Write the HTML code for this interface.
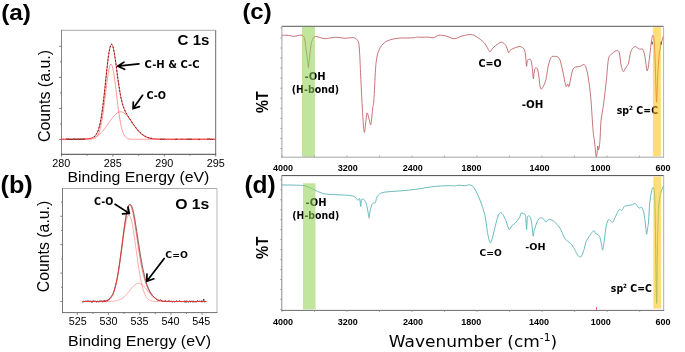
<!DOCTYPE html>
<html lang="en"><head><meta charset="utf-8"><title>XPS and FTIR spectra</title>
<style>html,body{margin:0;padding:0;background:#fff}svg{display:block}</style></head>
<body>
<svg width="685" height="352" viewBox="0 0 685 352">
<rect width="685" height="352" fill="#fff"/>
<text x="1.2" y="19.5" font-family='"Liberation Sans", sans-serif' font-size="22.2" font-weight="bold" text-anchor="start" fill="#000" textLength="29.8" lengthAdjust="spacingAndGlyphs" >(a)</text>
<text x="0.5" y="193" font-family='"Liberation Sans", sans-serif' font-size="23.5" font-weight="bold" text-anchor="start" fill="#000" textLength="32.2" lengthAdjust="spacingAndGlyphs" >(b)</text>
<text x="242.4" y="19" font-family='"Liberation Sans", sans-serif' font-size="22.4" font-weight="bold" text-anchor="start" fill="#000" textLength="29.2" lengthAdjust="spacingAndGlyphs" >(c)</text>
<text x="244.4" y="193.4" font-family='"Liberation Sans", sans-serif' font-size="24" font-weight="bold" text-anchor="start" fill="#000" textLength="31.3" lengthAdjust="spacingAndGlyphs" >(d)</text>
<path d="M61.5 30.3H215.7" stroke="#ababab" stroke-width="1.0" fill="none"/>
<path d="M215.7 30.3V154.3" stroke="#6a6a6a" stroke-width="1.0" fill="none"/>
<path d="M61.5 29.8V154.8" stroke="#858585" stroke-width="1.0" fill="none"/>
<path d="M61 154.3H216.2" stroke="#454545" stroke-width="1.0" fill="none"/>
<path d="M59.2 46.3H61.5 M60.1 61.82H61.5 M59.2 77.34H61.5 M60.1 92.86H61.5 M59.2 108.38H61.5 M60.1 123.9H61.5 M59.2 139.42H61.5 M61.5 154.3V156.6 M87.2 154.3V155.7 M112.9 154.3V156.6 M138.6 154.3V155.7 M164.3 154.3V156.6 M190 154.3V155.7 M215.7 154.3V156.6" stroke="#666" stroke-width="0.9" fill="none"/>
<text x="61.3" y="166.9" font-family='"Liberation Sans", sans-serif' font-size="10.8" font-weight="normal" text-anchor="middle" fill="#000" >280</text>
<text x="112.8" y="166.9" font-family='"Liberation Sans", sans-serif' font-size="10.8" font-weight="normal" text-anchor="middle" fill="#000" >285</text>
<text x="164.3" y="166.9" font-family='"Liberation Sans", sans-serif' font-size="10.8" font-weight="normal" text-anchor="middle" fill="#000" >290</text>
<text x="215.8" y="166.9" font-family='"Liberation Sans", sans-serif' font-size="10.8" font-weight="normal" text-anchor="middle" fill="#000" >295</text>
<text x="67.4" y="181.8" font-family='"Liberation Sans", sans-serif' font-size="15.4" font-weight="normal" text-anchor="start" fill="#000" textLength="142" lengthAdjust="spacingAndGlyphs" >Binding Energy (eV)</text>
<text transform="translate(49.5 96) rotate(-90)" font-family='"Liberation Sans", sans-serif' font-size="16" font-weight="normal" text-anchor="middle" fill="#000" textLength="92" lengthAdjust="spacingAndGlyphs">Counts (a.u.)</text>
<path d="M61.5 139.25 L62 139.25 L62.5 139.25 L63 139.25 L63.5 139.25 L64 139.25 L64.5 139.25 L65 139.25 L65.5 139.25 L66 139.25 L66.5 139.25 L67 139.25 L67.5 139.25 L68 139.25 L68.5 139.25 L69 139.25 L69.5 139.25 L70 139.25 L70.5 139.25 L71 139.25 L71.5 139.25 L72 139.25 L72.5 139.25 L73 139.25 L73.5 139.25 L74 139.25 L74.5 139.25 L75 139.25 L75.5 139.25 L76 139.25 L76.5 139.25 L77 139.25 L77.5 139.25 L78 139.25 L78.5 139.25 L79 139.25 L79.5 139.25 L80 139.25 L80.5 139.25 L81 139.25 L81.5 139.25 L82 139.25 L82.5 139.25 L83 139.25 L83.5 139.25 L84 139.25 L84.5 139.25 L85 139.25 L85.5 139.25 L86 139.25 L86.5 139.25 L87 139.25 L87.5 139.24 L88 139.24 L88.5 139.24 L89 139.23 L89.5 139.22 L90 139.21 L90.5 139.19 L91 139.16 L91.5 139.13 L92 139.08 L92.5 139.01 L93 138.93 L93.5 138.82 L94 138.67 L94.5 138.48 L95 138.24 L95.5 137.93 L96 137.55 L96.5 137.07 L97 136.47 L97.5 135.75 L98 134.88 L98.5 133.83 L99 132.59 L99.5 131.13 L100 129.44 L100.5 127.5 L101 125.28 L101.5 122.79 L102 120.02 L102.5 116.96 L103 113.64 L103.5 110.08 L104 106.29 L104.5 102.32 L105 98.23 L105.5 94.06 L106 89.88 L106.5 85.77 L107 81.81 L107.5 78.06 L108 74.62 L108.5 71.56 L109 68.95 L109.5 66.84 L110 65.31 L110.5 64.37 L111 64.05 L111.5 64.37 L112 65.31 L112.5 66.84 L113 68.95 L113.5 71.56 L114 74.62 L114.5 78.06 L115 81.81 L115.5 85.77 L116 89.88 L116.5 94.06 L117 98.23 L117.5 102.32 L118 106.29 L118.5 110.08 L119 113.64 L119.5 116.96 L120 120.02 L120.5 122.79 L121 125.28 L121.5 127.5 L122 129.44 L122.5 131.13 L123 132.59 L123.5 133.83 L124 134.88 L124.5 135.75 L125 136.47 L125.5 137.07 L126 137.55 L126.5 137.93 L127 138.24 L127.5 138.48 L128 138.67 L128.5 138.82 L129 138.93 L129.5 139.01 L130 139.08 L130.5 139.13 L131 139.16 L131.5 139.19 L132 139.21 L132.5 139.22 L133 139.23 L133.5 139.24 L134 139.24 L134.5 139.24 L135 139.25 L135.5 139.25 L136 139.25 L136.5 139.25 L137 139.25 L137.5 139.25 L138 139.25 L138.5 139.25 L139 139.25 L139.5 139.25 L140 139.25 L140.5 139.25 L141 139.25 L141.5 139.25 L142 139.25 L142.5 139.25 L143 139.25 L143.5 139.25 L144 139.25 L144.5 139.25 L145 139.25 L145.5 139.25 L146 139.25 L146.5 139.25 L147 139.25 L147.5 139.25 L148 139.25 L148.5 139.25 L149 139.25 L149.5 139.25 L150 139.25 L150.5 139.25 L151 139.25 L151.5 139.25 L152 139.25 L152.5 139.25 L153 139.25 L153.5 139.25 L154 139.25 L154.5 139.25 L155 139.25 L155.5 139.25 L156 139.25 L156.5 139.25 L157 139.25 L157.5 139.25 L158 139.25 L158.5 139.25 L159 139.25 L159.5 139.25 L160 139.25 L160.5 139.25 L161 139.25 L161.5 139.25 L162 139.25 L162.5 139.25 L163 139.25 L163.5 139.25 L164 139.25 L164.5 139.25 L165 139.25 L165.5 139.25 L166 139.25 L166.5 139.25 L167 139.25 L167.5 139.25 L168 139.25 L168.5 139.25 L169 139.25 L169.5 139.25 L170 139.25 L170.5 139.25 L171 139.25 L171.5 139.25 L172 139.25 L172.5 139.25 L173 139.25 L173.5 139.25 L174 139.25 L174.5 139.25 L175 139.25 L175.5 139.25 L176 139.25 L176.5 139.25 L177 139.25 L177.5 139.25 L178 139.25 L178.5 139.25 L179 139.25 L179.5 139.25 L180 139.25 L180.5 139.25 L181 139.25 L181.5 139.25 L182 139.25 L182.5 139.25 L183 139.25 L183.5 139.25 L184 139.25 L184.5 139.25 L185 139.25 L185.5 139.25 L186 139.25 L186.5 139.25 L187 139.25 L187.5 139.25 L188 139.25 L188.5 139.25 L189 139.25 L189.5 139.25 L190 139.25 L190.5 139.25 L191 139.25 L191.5 139.25 L192 139.25 L192.5 139.25 L193 139.25 L193.5 139.25 L194 139.25 L194.5 139.25 L195 139.25 L195.5 139.25 L196 139.25 L196.5 139.25 L197 139.25 L197.5 139.25 L198 139.25 L198.5 139.25 L199 139.25 L199.5 139.25 L200 139.25 L200.5 139.25 L201 139.25 L201.5 139.25 L202 139.25 L202.5 139.25 L203 139.25 L203.5 139.25 L204 139.25 L204.5 139.25 L205 139.25 L205.5 139.25 L206 139.25 L206.5 139.25 L207 139.25 L207.5 139.25 L208 139.25 L208.5 139.25 L209 139.25 L209.5 139.25 L210 139.25 L210.5 139.25 L211 139.25 L211.5 139.25 L212 139.25 L212.5 139.25 L213 139.25 L213.5 139.25 L214 139.25 L214.5 139.25 L215 139.25 L215.5 139.25" fill="none" stroke="#ff4545" stroke-width="0.55"/>
<path d="M61.5 139.25 L62 139.25 L62.5 139.25 L63 139.25 L63.5 139.25 L64 139.25 L64.5 139.25 L65 139.25 L65.5 139.25 L66 139.25 L66.5 139.25 L67 139.25 L67.5 139.25 L68 139.25 L68.5 139.25 L69 139.25 L69.5 139.25 L70 139.25 L70.5 139.25 L71 139.25 L71.5 139.25 L72 139.25 L72.5 139.25 L73 139.24 L73.5 139.24 L74 139.24 L74.5 139.24 L75 139.24 L75.5 139.24 L76 139.24 L76.5 139.23 L77 139.23 L77.5 139.23 L78 139.22 L78.5 139.22 L79 139.21 L79.5 139.2 L80 139.2 L80.5 139.19 L81 139.18 L81.5 139.17 L82 139.15 L82.5 139.14 L83 139.12 L83.5 139.1 L84 139.08 L84.5 139.05 L85 139.02 L85.5 138.99 L86 138.95 L86.5 138.91 L87 138.87 L87.5 138.81 L88 138.76 L88.5 138.69 L89 138.62 L89.5 138.54 L90 138.46 L90.5 138.36 L91 138.25 L91.5 138.13 L92 138.01 L92.5 137.87 L93 137.71 L93.5 137.54 L94 137.36 L94.5 137.16 L95 136.95 L95.5 136.72 L96 136.47 L96.5 136.2 L97 135.91 L97.5 135.61 L98 135.28 L98.5 134.93 L99 134.55 L99.5 134.16 L100 133.74 L100.5 133.3 L101 132.84 L101.5 132.35 L102 131.84 L102.5 131.31 L103 130.76 L103.5 130.18 L104 129.58 L104.5 128.97 L105 128.33 L105.5 127.68 L106 127.01 L106.5 126.33 L107 125.63 L107.5 124.93 L108 124.22 L108.5 123.5 L109 122.78 L109.5 122.05 L110 121.33 L110.5 120.62 L111 119.91 L111.5 119.22 L112 118.53 L112.5 117.87 L113 117.23 L113.5 116.6 L114 116.01 L114.5 115.45 L115 114.91 L115.5 114.42 L116 113.96 L116.5 113.54 L117 113.16 L117.5 112.83 L118 112.54 L118.5 112.3 L119 112.11 L119.5 111.98 L120 111.89 L120.5 111.85 L121 111.87 L121.5 111.93 L122 112.05 L122.5 112.22 L123 112.44 L123.5 112.71 L124 113.02 L124.5 113.38 L125 113.78 L125.5 114.23 L126 114.71 L126.5 115.23 L127 115.78 L127.5 116.36 L128 116.97 L128.5 117.61 L129 118.27 L129.5 118.94 L130 119.63 L130.5 120.33 L131 121.05 L131.5 121.76 L132 122.49 L132.5 123.21 L133 123.93 L133.5 124.64 L134 125.35 L134.5 126.05 L135 126.74 L135.5 127.41 L136 128.07 L136.5 128.71 L137 129.34 L137.5 129.94 L138 130.53 L138.5 131.09 L139 131.63 L139.5 132.15 L140 132.65 L140.5 133.12 L141 133.57 L141.5 134 L142 134.4 L142.5 134.78 L143 135.14 L143.5 135.48 L144 135.79 L144.5 136.09 L145 136.36 L145.5 136.62 L146 136.86 L146.5 137.08 L147 137.28 L147.5 137.47 L148 137.65 L148.5 137.81 L149 137.95 L149.5 138.08 L150 138.21 L150.5 138.32 L151 138.42 L151.5 138.51 L152 138.59 L152.5 138.67 L153 138.73 L153.5 138.79 L154 138.85 L154.5 138.89 L155 138.94 L155.5 138.98 L156 139.01 L156.5 139.04 L157 139.07 L157.5 139.09 L158 139.11 L158.5 139.13 L159 139.15 L159.5 139.16 L160 139.17 L160.5 139.18 L161 139.19 L161.5 139.2 L162 139.21 L162.5 139.21 L163 139.22 L163.5 139.22 L164 139.23 L164.5 139.23 L165 139.23 L165.5 139.24 L166 139.24 L166.5 139.24 L167 139.24 L167.5 139.24 L168 139.24 L168.5 139.25 L169 139.25 L169.5 139.25 L170 139.25 L170.5 139.25 L171 139.25 L171.5 139.25 L172 139.25 L172.5 139.25 L173 139.25 L173.5 139.25 L174 139.25 L174.5 139.25 L175 139.25 L175.5 139.25 L176 139.25 L176.5 139.25 L177 139.25 L177.5 139.25 L178 139.25 L178.5 139.25 L179 139.25 L179.5 139.25 L180 139.25 L180.5 139.25 L181 139.25 L181.5 139.25 L182 139.25 L182.5 139.25 L183 139.25 L183.5 139.25 L184 139.25 L184.5 139.25 L185 139.25 L185.5 139.25 L186 139.25 L186.5 139.25 L187 139.25 L187.5 139.25 L188 139.25 L188.5 139.25 L189 139.25 L189.5 139.25 L190 139.25 L190.5 139.25 L191 139.25 L191.5 139.25 L192 139.25 L192.5 139.25 L193 139.25 L193.5 139.25 L194 139.25 L194.5 139.25 L195 139.25 L195.5 139.25 L196 139.25 L196.5 139.25 L197 139.25 L197.5 139.25 L198 139.25 L198.5 139.25 L199 139.25 L199.5 139.25 L200 139.25 L200.5 139.25 L201 139.25 L201.5 139.25 L202 139.25 L202.5 139.25 L203 139.25 L203.5 139.25 L204 139.25 L204.5 139.25 L205 139.25 L205.5 139.25 L206 139.25 L206.5 139.25 L207 139.25 L207.5 139.25 L208 139.25 L208.5 139.25 L209 139.25 L209.5 139.25 L210 139.25 L210.5 139.25 L211 139.25 L211.5 139.25 L212 139.25 L212.5 139.25 L213 139.25 L213.5 139.25 L214 139.25 L214.5 139.25 L215 139.25 L215.5 139.25" fill="none" stroke="#ff4545" stroke-width="0.55"/>
<path d="M61.5 139.25 L62 139.25 L62.5 139.25 L63 139.25 L63.5 139.25 L64 139.25 L64.5 139.25 L65 139.25 L65.5 139.25 L66 139.25 L66.5 139.25 L67 139.25 L67.5 139.25 L68 139.25 L68.5 139.25 L69 139.25 L69.5 139.25 L70 139.25 L70.5 139.25 L71 139.25 L71.5 139.25 L72 139.25 L72.5 139.25 L73 139.24 L73.5 139.24 L74 139.24 L74.5 139.24 L75 139.24 L75.5 139.24 L76 139.24 L76.5 139.23 L77 139.23 L77.5 139.23 L78 139.22 L78.5 139.22 L79 139.21 L79.5 139.2 L80 139.2 L80.5 139.19 L81 139.18 L81.5 139.17 L82 139.15 L82.5 139.14 L83 139.12 L83.5 139.1 L84 139.08 L84.5 139.05 L85 139.02 L85.5 138.99 L86 138.95 L86.5 138.91 L87 138.86 L87.5 138.81 L88 138.75 L88.5 138.68 L89 138.6 L89.5 138.51 L90 138.41 L90.5 138.29 L91 138.16 L91.5 138.01 L92 137.83 L92.5 137.63 L93 137.39 L93.5 137.11 L94 136.78 L94.5 136.4 L95 135.94 L95.5 135.4 L96 134.77 L96.5 134.02 L97 133.14 L97.5 132.11 L98 130.9 L98.5 129.51 L99 127.89 L99.5 126.04 L100 123.93 L100.5 121.55 L101 118.87 L101.5 115.89 L102 112.61 L102.5 109.02 L103 105.15 L103.5 101.01 L104 96.62 L104.5 92.04 L105 87.31 L105.5 82.49 L106 77.64 L106.5 72.85 L107 68.19 L107.5 63.74 L108 59.59 L108.5 55.81 L109 52.47 L109.5 49.65 L110 47.39 L110.5 45.73 L111 44.71 L111.5 44.33 L112 44.59 L112.5 45.46 L113 46.92 L113.5 48.91 L114 51.38 L114.5 54.26 L115 57.47 L115.5 60.94 L116 64.59 L116.5 68.34 L117 72.14 L117.5 75.9 L118 79.58 L118.5 83.13 L119 86.51 L119.5 89.69 L120 92.65 L120.5 95.39 L121 97.9 L121.5 100.18 L122 102.24 L122.5 104.1 L123 105.78 L123.5 107.29 L124 108.65 L124.5 109.88 L125 111.01 L125.5 112.04 L126 113.01 L126.5 113.91 L127 114.77 L127.5 115.59 L128 116.39 L128.5 117.18 L129 117.94 L129.5 118.7 L130 119.46 L130.5 120.21 L131 120.96 L131.5 121.7 L132 122.44 L132.5 123.18 L133 123.91 L133.5 124.63 L134 125.34 L134.5 126.05 L135 126.73 L135.5 127.41 L136 128.07 L136.5 128.71 L137 129.34 L137.5 129.94 L138 130.53 L138.5 131.09 L139 131.63 L139.5 132.15 L140 132.65 L140.5 133.12 L141 133.57 L141.5 134 L142 134.4 L142.5 134.78 L143 135.14 L143.5 135.48 L144 135.79 L144.5 136.09 L145 136.36 L145.5 136.62 L146 136.86 L146.5 137.08 L147 137.28 L147.5 137.47 L148 137.65 L148.5 137.81 L149 137.95 L149.5 138.08 L150 138.21 L150.5 138.32 L151 138.42 L151.5 138.51 L152 138.59 L152.5 138.67 L153 138.73 L153.5 138.79 L154 138.85 L154.5 138.89 L155 138.94 L155.5 138.98 L156 139.01 L156.5 139.04 L157 139.07 L157.5 139.09 L158 139.11 L158.5 139.13 L159 139.15 L159.5 139.16 L160 139.17 L160.5 139.18 L161 139.19 L161.5 139.2 L162 139.21 L162.5 139.21 L163 139.22 L163.5 139.22 L164 139.23 L164.5 139.23 L165 139.23 L165.5 139.24 L166 139.24 L166.5 139.24 L167 139.24 L167.5 139.24 L168 139.24 L168.5 139.25 L169 139.25 L169.5 139.25 L170 139.25 L170.5 139.25 L171 139.25 L171.5 139.25 L172 139.25 L172.5 139.25 L173 139.25 L173.5 139.25 L174 139.25 L174.5 139.25 L175 139.25 L175.5 139.25 L176 139.25 L176.5 139.25 L177 139.25 L177.5 139.25 L178 139.25 L178.5 139.25 L179 139.25 L179.5 139.25 L180 139.25 L180.5 139.25 L181 139.25 L181.5 139.25 L182 139.25 L182.5 139.25 L183 139.25 L183.5 139.25 L184 139.25 L184.5 139.25 L185 139.25 L185.5 139.25 L186 139.25 L186.5 139.25 L187 139.25 L187.5 139.25 L188 139.25 L188.5 139.25 L189 139.25 L189.5 139.25 L190 139.25 L190.5 139.25 L191 139.25 L191.5 139.25 L192 139.25 L192.5 139.25 L193 139.25 L193.5 139.25 L194 139.25 L194.5 139.25 L195 139.25 L195.5 139.25 L196 139.25 L196.5 139.25 L197 139.25 L197.5 139.25 L198 139.25 L198.5 139.25 L199 139.25 L199.5 139.25 L200 139.25 L200.5 139.25 L201 139.25 L201.5 139.25 L202 139.25 L202.5 139.25 L203 139.25 L203.5 139.25 L204 139.25 L204.5 139.25 L205 139.25 L205.5 139.25 L206 139.25 L206.5 139.25 L207 139.25 L207.5 139.25 L208 139.25 L208.5 139.25 L209 139.25 L209.5 139.25 L210 139.25 L210.5 139.25 L211 139.25 L211.5 139.25 L212 139.25 L212.5 139.25 L213 139.25 L213.5 139.25 L214 139.25 L214.5 139.25 L215 139.25 L215.5 139.25" fill="none" stroke="#f02020" stroke-width="0.8"/>
<path d="M66 139.2 L66.5 138.95 L67 138.96 L67.5 139.2 L68 139.48 L68.5 138.99 L69 139.06 L69.5 139.34 L70 139.56 L70.5 139.3 L71 139.18 L71.5 139.58 L72 138.93 L72.5 139.5 L73 139.1 L73.5 138.99 L74 138.98 L74.5 139.11 L75 139.46 L75.5 139.01 L76 139.29 L76.5 139.33 L77 139.14 L77.5 139.26 L78 138.92 L78.5 138.91 L79 139 L79.5 139.33 L80 139.15 L80.5 139.06 L81 139.24 L81.5 139.13 L82 139.01 L82.5 139.34 L83 139.26 L83.5 138.92 L84 139.13 L84.5 139.07 L85 139.28" fill="none" stroke="#301010" stroke-width="0.8" stroke-linejoin="round"/>
<path d="M94 136.75 L94.5 136.63 L95 136.25 L95.5 135.38 L96 134.88 L96.5 133.71 L97 133.28 L97.5 132.21 L98 131.25 L98.5 129.73 L99 127.74 L99.5 125.96 L100 124.05 L100.5 121.21 L101 118.84 L101.5 115.66 L102 112.34 L102.5 108.72 L103 105.34 L103.5 100.75 L104 96.45 L104.5 91.96 L105 87.57 L105.5 82.19 L106 77.61 L106.5 72.89 L107 68.46 L107.5 63.97 L108 59.84 L108.5 55.65 L109 52.41 L109.5 49.55 L110 47.66 L110.5 46.05 L111 44.47 L111.5 44.1 L112 44.4 L112.5 45.28 L113 46.91 L113.5 48.98 L114 51.22 L114.5 53.91 L115 57.41 L115.5 60.85 L116 64.63 L116.5 68.66 L117 72.27 L117.5 75.91 L118 79.66 L118.5 82.95 L119 85.9 L119.5 89.67 L120 92.55 L120.5 95.35 L121 97.81 L121.5 99.8 L122 101.87 L122.5 103.53 L123 105.57 L123.5 106.68 L124 108.05 L124.5 109.38 L125 110.47 L125.5 111.63 L126 112.39 L126.5 113.26 L127 114.23 L127.5 115.02 L128 116 L128.5 116.54 L129 117.91 L129.5 118.48 L130 118.91 L130.5 119.74 L131 120.55 L131.5 121.31 L132 121.88 L132.5 123.12 L133 123.95 L133.5 124.31 L134 125.03 L134.5 125.46 L135 126.16 L135.5 127 L136 127.61 L136.5 128.64 L137 128.8 L137.5 129.31 L138 130.54 L138.5 130.81 L139 131.08 L139.5 131.88 L140 132.02 L140.5 132.84 L141 133.6 L141.5 133.95 L142 134.24 L142.5 134.31 L143 134.75 L143.5 134.94 L144 135.68 L144.5 135.81 L145 136.26 L145.5 136.2 L146 136.37 L146.5 137 L147 137.32 L147.5 137.42 L148 137.56 L148.5 137.73 L149 137.82 L149.5 137.59 L150 138.22 L150.5 138.22 L151 138.09 L151.5 138.18 L152 138.44" fill="none" stroke="#200000" stroke-width="0.7" stroke-dasharray="1.6 1.8" stroke-linejoin="round"/>
<path d="M160 139.16 L160.5 139.29 L161 139.4 L161.5 138.91 L162 139.32 L162.5 139.5 L163 139.42 L163.5 139.4 L164 139.21 L164.5 139.01 L165 139.44" fill="none" stroke="#402020" stroke-width="0.7" stroke-linejoin="round"/>
<path d="M175 138.91 L175.5 139.58 L176 139.35 L176.5 139.27 L177 139.55 L177.5 139.2" fill="none" stroke="#402020" stroke-width="0.7" stroke-linejoin="round"/>
<path d="M181.5 139.08 L182 139.19 L182.5 138.99" fill="none" stroke="#402020" stroke-width="0.7" stroke-linejoin="round"/>
<path d="M186.5 139.25 L187 139.27 L187.5 139.27 L188 138.91 L188.5 139.21 L189 139.03 L189.5 138.9 L190 139.46 L190.5 139.02 L191 139.23 L191.5 139.41 L192 139.29" fill="none" stroke="#402020" stroke-width="0.7" stroke-linejoin="round"/>
<path d="M198 139.43 L198.5 139.54 L199 139.21 L199.5 139.33 L200 139.25" fill="none" stroke="#402020" stroke-width="0.7" stroke-linejoin="round"/>
<path d="M207 139 L207.5 138.99 L208 139.21 L208.5 138.95 L209 139.07 L209.5 138.95 L210 139.37 L210.5 139.45 L211 139.53 L211.5 139.01 L212 139.4 L212.5 139.36 L213 139" fill="none" stroke="#402020" stroke-width="0.7" stroke-linejoin="round"/>
<text x="177.6" y="44.5" font-family='"Liberation Sans", sans-serif' font-size="14.8" font-weight="bold" text-anchor="start" fill="#000" textLength="31.8" lengthAdjust="spacingAndGlyphs" >C 1s</text>
<text x="144.6" y="68" font-family='"DejaVu Sans", "Liberation Sans", sans-serif' font-size="9.9" font-weight="bold" text-anchor="start" fill="#000" textLength="55" lengthAdjust="spacingAndGlyphs" >C-H &amp; C-C</text>
<path d="M138.9 63.8 L117.8 66.2 M124 62.1 L117.8 66.2 L124.6 69.3" fill="none" stroke="#000" stroke-width="1.7" stroke-linecap="round" stroke-linejoin="miter"/>
<text x="146.4" y="99.3" font-family='"DejaVu Sans", "Liberation Sans", sans-serif' font-size="9.7" font-weight="bold" text-anchor="start" fill="#000" textLength="19.6" lengthAdjust="spacingAndGlyphs" >C-O</text>
<path d="M142.6 95.3 L133.1 108.6 M133.3 102 L133.1 108.6 L139.5 106.6" fill="none" stroke="#000" stroke-width="1.7" stroke-linecap="round" stroke-linejoin="miter"/>
<path d="M62.5 188.5H217" stroke="#ababab" stroke-width="1.0" fill="none"/>
<path d="M217 188.5V312.6" stroke="#b8b8b8" stroke-width="1.0" fill="none"/>
<path d="M62.5 188V313.1" stroke="#7a7a7a" stroke-width="1.0" fill="none"/>
<path d="M62 312.6H217.5" stroke="#707070" stroke-width="1.0" fill="none"/>
<path d="M61.1 202.1H62.5 M60.3 216.3H62.5 M61.1 230.5H62.5 M60.3 244.7H62.5 M61.1 258.9H62.5 M60.3 273.1H62.5 M61.1 287.3H62.5 M60.3 301.5H62.5 M77.3 312.6V314.9 M92.9 312.6V314 M108.5 312.6V314.9 M124.1 312.6V314 M139.7 312.6V314.9 M155.3 312.6V314 M170.9 312.6V314.9 M186.5 312.6V314 M202.1 312.6V314.9" stroke="#777" stroke-width="0.9" fill="none"/>
<text x="77.8" y="325.3" font-family='"Liberation Sans", sans-serif' font-size="10.8" font-weight="normal" text-anchor="middle" fill="#000" >525</text>
<text x="108.5" y="325.3" font-family='"Liberation Sans", sans-serif' font-size="10.8" font-weight="normal" text-anchor="middle" fill="#000" >530</text>
<text x="139.5" y="325.3" font-family='"Liberation Sans", sans-serif' font-size="10.8" font-weight="normal" text-anchor="middle" fill="#000" >535</text>
<text x="170.5" y="325.3" font-family='"Liberation Sans", sans-serif' font-size="10.8" font-weight="normal" text-anchor="middle" fill="#000" >540</text>
<text x="201.3" y="325.3" font-family='"Liberation Sans", sans-serif' font-size="10.8" font-weight="normal" text-anchor="middle" fill="#000" >545</text>
<text x="68" y="345.6" font-family='"Liberation Sans", sans-serif' font-size="15.4" font-weight="normal" text-anchor="start" fill="#000" textLength="143" lengthAdjust="spacingAndGlyphs" >Binding Energy (eV)</text>
<text transform="translate(49.3 246.5) rotate(-90)" font-family='"Liberation Sans", sans-serif' font-size="16" font-weight="normal" text-anchor="middle" fill="#000" textLength="91.5" lengthAdjust="spacingAndGlyphs">Counts (a.u.)</text>
<path d="M82.3 301.47 L82.8 302.48 L83.3 302.16 L83.8 300.82 L84.3 301.36 L84.8 301.53 L85.3 301.18 L85.8 300.89 L86.3 301.14 L86.8 301.94 L87.3 300.54 L87.8 301.61 L88.3 301.38 L88.8 300.54 L89.3 301.16 L89.8 301.75 L90.3 301.52 L90.8 300.63 L91.3 302.47 L91.8 302.08 L92.3 302.44 L92.8 300.71 L93.3 301.03 L93.8 300.58 L94.3 302.06 L94.8 301.04 L95.3 300.76 L95.8 301.34 L96.3 302.32 L96.8 302.13 L97.3 301.01 L97.8 300.79 L98.3 302.32 L98.8 301.62 L99.3 301.88 L99.8 300.65 L100.3 300.57 L100.8 301.82 L101.3 301.28 L101.8 300.56 L102.3 302.26 L102.8 301.63 L103.3 301.92 L103.8 300.44 L104.3 301.92 L104.8 300.27 L105.3 301.77 L105.8 300.84 L106.3 300.48 L106.8 300.75 L107.3 301.3 L107.8 299.75 L108.3 299.2 L108.8 299.67 L109.3 298.71 L109.8 298 L110.3 297.58 L110.8 296.75 L111.3 296.35 L111.8 295.76 L112.3 295.06 L112.8 294.38 L113.3 292.83 L113.8 291.67 L114.3 289.93 L114.8 288.42 L115.3 286.34 L115.8 284.52 L116.3 282.15 L116.8 280.35 L117.3 277.65 L117.8 274.61 L118.3 271.9 L118.8 269.16 L119.3 265.23 L119.8 262.37 L120.3 258.5 L120.8 254.88 L121.3 251.38 L121.8 247.2 L122.3 243.43 L122.8 239.7 L123.3 236.11 L123.8 231.83 L124.3 228.56 L124.8 224.94 L125.3 221.54 L125.8 218.23 L126.3 215.3 L126.8 212.46 L127.3 210.23 L127.8 208.22 L128.3 207.15 L128.8 205.52 L129.3 204.59 L129.8 204.06 L130.3 204.59 L130.8 204.93 L131.3 205.46 L131.8 206.2 L132.3 207.57 L132.8 209.34 L133.3 211.5 L133.8 213.56 L134.3 216.34 L134.8 218.95 L135.3 222.45 L135.8 225.54 L136.3 228.4 L136.8 231.44 L137.3 235.34 L137.8 238.17 L138.3 241.55 L138.8 244.58 L139.3 248.15 L139.8 251.42 L140.3 254.55 L140.8 257.32 L141.3 260.46 L141.8 262.83 L142.3 265.69 L142.8 268.07 L143.3 270.71 L143.8 272.68 L144.3 274.79 L144.8 277.01 L145.3 278.83 L145.8 280.87 L146.3 282.46 L146.8 284.17 L147.3 285.52 L147.8 286.89 L148.3 288.25 L148.8 289.01 L149.3 290.02 L149.8 291.53 L150.3 291.78 L150.8 293.09 L151.3 293.81 L151.8 294.05 L152.3 295.35 L152.8 296.01 L153.3 296.37 L153.8 296.98 L154.3 297.52 L154.8 297.42 L155.3 298.13 L155.8 298.48 L156.3 299.48 L156.8 299.72 L157.3 300.04 L157.8 299.8 L158.3 300.64 L158.8 300.42 L159.3 300.62 L159.8 299.86 L160.3 299.6 L160.8 299.93 L161.3 300.5 L161.8 300.09 L162.3 301.64 L162.8 301.16 L163.3 301.36 L163.8 301.42 L164.3 301.58 L164.8 301.24 L165.3 300.3 L165.8 301.92 L166.3 301.85 L166.8 301.39 L167.3 301.47 L167.8 301.74 L168.3 300.56 L168.8 301.92 L169.3 300.96 L169.8 300.61 L170.3 301 L170.8 301.93 L171.3 300.89 L171.8 301.96 L172.3 302.44 L172.8 301.48 L173.3 301.26 L173.8 301.45 L174.3 301.86 L174.8 302.03 L175.3 301.73 L175.8 301.78 L176.3 300.65 L176.8 300.79 L177.3 301.01 L177.8 301.99 L178.3 301.11 L178.8 301.63 L179.3 300.52 L179.8 300.62 L180.3 301.04 L180.8 301.84 L181.3 301.88 L181.8 301.85 L182.3 301.08 L182.8 301.53 L183.3 301.43 L183.8 301.43 L184.3 300.74 L184.8 302.29 L185.3 300.9 L185.8 302.46 L186.3 302.37 L186.8 300.54 L187.3 301.42 L187.8 302.14 L188.3 302.44 L188.8 301.4 L189.3 301.04 L189.8 300.92 L190.3 302.39 L190.8 300.92 L191.3 301.66 L191.8 300.78 L192.3 301.55 L192.8 302.41 L193.3 300.77 L193.8 302.14 L194.3 301.52 L194.8 302.27 L195.3 301.91 L195.8 300.96 L196.3 302.3 L196.8 301.47 L197.3 300.55 L197.8 300.51 L198.3 301.48 L198.8 301.4 L199.3 301.1 L199.8 300.78 L200.3 301.19 L200.8 301.13 L201.3 302.18 L201.8 300.5 L202.3 302 L202.8 302.18 L203.3 300.74 L203.8 298.9 L204.3 301.93 L204.8 302.3 L205.3 301.08 L205.8 301.24 L206.3 301.29" fill="none" stroke="#200000" stroke-width="0.6" stroke-linejoin="round"/>
<path d="M82.3 301.5 L82.8 301.5 L83.3 301.5 L83.8 301.5 L84.3 301.5 L84.8 301.5 L85.3 301.5 L85.8 301.5 L86.3 301.5 L86.8 301.5 L87.3 301.5 L87.8 301.5 L88.3 301.5 L88.8 301.5 L89.3 301.5 L89.8 301.5 L90.3 301.5 L90.8 301.5 L91.3 301.5 L91.8 301.5 L92.3 301.5 L92.8 301.5 L93.3 301.5 L93.8 301.5 L94.3 301.5 L94.8 301.5 L95.3 301.5 L95.8 301.5 L96.3 301.5 L96.8 301.5 L97.3 301.5 L97.8 301.49 L98.3 301.49 L98.8 301.49 L99.3 301.48 L99.8 301.48 L100.3 301.47 L100.8 301.46 L101.3 301.45 L101.8 301.43 L102.3 301.41 L102.8 301.39 L103.3 301.36 L103.8 301.32 L104.3 301.27 L104.8 301.21 L105.3 301.13 L105.8 301.03 L106.3 300.92 L106.8 300.77 L107.3 300.6 L107.8 300.39 L108.3 300.14 L108.8 299.84 L109.3 299.48 L109.8 299.06 L110.3 298.57 L110.8 297.99 L111.3 297.32 L111.8 296.55 L112.3 295.66 L112.8 294.65 L113.3 293.5 L113.8 292.21 L114.3 290.76 L114.8 289.14 L115.3 287.35 L115.8 285.37 L116.3 283.21 L116.8 280.86 L117.3 278.33 L117.8 275.61 L118.3 272.71 L118.8 269.64 L119.3 266.42 L119.8 263.06 L120.3 259.59 L120.8 256.02 L121.3 252.39 L121.8 248.73 L122.3 245.07 L122.8 241.46 L123.3 237.92 L123.8 234.51 L124.3 231.25 L124.8 228.2 L125.3 225.39 L125.8 222.85 L126.3 220.63 L126.8 218.75 L127.3 217.24 L127.8 216.12 L128.3 215.4 L128.8 215.11 L129.3 215.24 L129.8 215.78 L130.3 216.74 L130.8 218.1 L131.3 219.83 L131.8 221.92 L132.3 224.34 L132.8 227.04 L133.3 230 L133.8 233.18 L134.3 236.54 L134.8 240.03 L135.3 243.62 L135.8 247.26 L136.3 250.93 L136.8 254.57 L137.3 258.17 L137.8 261.68 L138.3 265.09 L138.8 268.37 L139.3 271.5 L139.8 274.47 L140.3 277.26 L140.8 279.87 L141.3 282.3 L141.8 284.53 L142.3 286.58 L142.8 288.44 L143.3 290.13 L143.8 291.65 L144.3 293.01 L144.8 294.21 L145.3 295.28 L145.8 296.21 L146.3 297.03 L146.8 297.74 L147.3 298.35 L147.8 298.87 L148.3 299.32 L148.8 299.7 L149.3 300.02 L149.8 300.29 L150.3 300.52 L150.8 300.71 L151.3 300.86 L151.8 300.99 L152.3 301.09 L152.8 301.18 L153.3 301.24 L153.8 301.3 L154.3 301.34 L154.8 301.38 L155.3 301.41 L155.8 301.43 L156.3 301.44 L156.8 301.46 L157.3 301.47 L157.8 301.48 L158.3 301.48 L158.8 301.49 L159.3 301.49 L159.8 301.49 L160.3 301.49 L160.8 301.5 L161.3 301.5 L161.8 301.5 L162.3 301.5 L162.8 301.5 L163.3 301.5 L163.8 301.5 L164.3 301.5 L164.8 301.5 L165.3 301.5 L165.8 301.5 L166.3 301.5 L166.8 301.5 L167.3 301.5 L167.8 301.5 L168.3 301.5 L168.8 301.5 L169.3 301.5 L169.8 301.5 L170.3 301.5 L170.8 301.5 L171.3 301.5 L171.8 301.5 L172.3 301.5 L172.8 301.5 L173.3 301.5 L173.8 301.5 L174.3 301.5 L174.8 301.5 L175.3 301.5 L175.8 301.5 L176.3 301.5 L176.8 301.5 L177.3 301.5 L177.8 301.5 L178.3 301.5 L178.8 301.5 L179.3 301.5 L179.8 301.5 L180.3 301.5 L180.8 301.5 L181.3 301.5 L181.8 301.5 L182.3 301.5 L182.8 301.5 L183.3 301.5 L183.8 301.5 L184.3 301.5 L184.8 301.5 L185.3 301.5 L185.8 301.5 L186.3 301.5 L186.8 301.5 L187.3 301.5 L187.8 301.5 L188.3 301.5 L188.8 301.5 L189.3 301.5 L189.8 301.5 L190.3 301.5 L190.8 301.5 L191.3 301.5 L191.8 301.5 L192.3 301.5 L192.8 301.5 L193.3 301.5 L193.8 301.5 L194.3 301.5 L194.8 301.5 L195.3 301.5 L195.8 301.5 L196.3 301.5 L196.8 301.5 L197.3 301.5 L197.8 301.5 L198.3 301.5 L198.8 301.5 L199.3 301.5 L199.8 301.5 L200.3 301.5 L200.8 301.5 L201.3 301.5 L201.8 301.5 L202.3 301.5 L202.8 301.5 L203.3 301.5 L203.8 301.5 L204.3 301.5 L204.8 301.5 L205.3 301.5 L205.8 301.5 L206.3 301.5" fill="none" stroke="#ff4545" stroke-width="0.45"/>
<path d="M82.3 301.5 L82.8 301.5 L83.3 301.5 L83.8 301.5 L84.3 301.5 L84.8 301.5 L85.3 301.5 L85.8 301.5 L86.3 301.5 L86.8 301.5 L87.3 301.5 L87.8 301.5 L88.3 301.5 L88.8 301.5 L89.3 301.5 L89.8 301.5 L90.3 301.5 L90.8 301.5 L91.3 301.5 L91.8 301.5 L92.3 301.5 L92.8 301.5 L93.3 301.5 L93.8 301.5 L94.3 301.5 L94.8 301.5 L95.3 301.5 L95.8 301.5 L96.3 301.5 L96.8 301.5 L97.3 301.5 L97.8 301.5 L98.3 301.5 L98.8 301.5 L99.3 301.5 L99.8 301.5 L100.3 301.5 L100.8 301.5 L101.3 301.5 L101.8 301.5 L102.3 301.5 L102.8 301.5 L103.3 301.49 L103.8 301.49 L104.3 301.49 L104.8 301.49 L105.3 301.49 L105.8 301.48 L106.3 301.48 L106.8 301.47 L107.3 301.47 L107.8 301.46 L108.3 301.45 L108.8 301.44 L109.3 301.43 L109.8 301.41 L110.3 301.4 L110.8 301.38 L111.3 301.35 L111.8 301.32 L112.3 301.29 L112.8 301.25 L113.3 301.21 L113.8 301.16 L114.3 301.1 L114.8 301.03 L115.3 300.95 L115.8 300.87 L116.3 300.77 L116.8 300.65 L117.3 300.53 L117.8 300.39 L118.3 300.23 L118.8 300.05 L119.3 299.86 L119.8 299.64 L120.3 299.41 L120.8 299.15 L121.3 298.86 L121.8 298.56 L122.3 298.23 L122.8 297.87 L123.3 297.49 L123.8 297.08 L124.3 296.64 L124.8 296.18 L125.3 295.69 L125.8 295.18 L126.3 294.65 L126.8 294.09 L127.3 293.52 L127.8 292.93 L128.3 292.33 L128.8 291.71 L129.3 291.09 L129.8 290.46 L130.3 289.83 L130.8 289.21 L131.3 288.6 L131.8 288 L132.3 287.41 L132.8 286.85 L133.3 286.32 L133.8 285.82 L134.3 285.35 L134.8 284.92 L135.3 284.54 L135.8 284.2 L136.3 283.91 L136.8 283.68 L137.3 283.5 L137.8 283.38 L138.3 283.31 L138.8 283.3 L139.3 283.36 L139.8 283.47 L140.3 283.64 L140.8 283.86 L141.3 284.14 L141.8 284.46 L142.3 284.84 L142.8 285.26 L143.3 285.72 L143.8 286.22 L144.3 286.74 L144.8 287.3 L145.3 287.88 L145.8 288.48 L146.3 289.09 L146.8 289.71 L147.3 290.34 L147.8 290.96 L148.3 291.59 L148.8 292.2 L149.3 292.81 L149.8 293.4 L150.3 293.98 L150.8 294.54 L151.3 295.08 L151.8 295.59 L152.3 296.08 L152.8 296.55 L153.3 296.99 L153.8 297.41 L154.3 297.79 L154.8 298.16 L155.3 298.49 L155.8 298.81 L156.3 299.09 L156.8 299.36 L157.3 299.6 L157.8 299.82 L158.3 300.01 L158.8 300.19 L159.3 300.36 L159.8 300.5 L160.3 300.63 L160.8 300.74 L161.3 300.85 L161.8 300.94 L162.3 301.02 L162.8 301.09 L163.3 301.15 L163.8 301.2 L164.3 301.24 L164.8 301.28 L165.3 301.32 L165.8 301.35 L166.3 301.37 L166.8 301.39 L167.3 301.41 L167.8 301.43 L168.3 301.44 L168.8 301.45 L169.3 301.46 L169.8 301.47 L170.3 301.47 L170.8 301.48 L171.3 301.48 L171.8 301.49 L172.3 301.49 L172.8 301.49 L173.3 301.49 L173.8 301.49 L174.3 301.5 L174.8 301.5 L175.3 301.5 L175.8 301.5 L176.3 301.5 L176.8 301.5 L177.3 301.5 L177.8 301.5 L178.3 301.5 L178.8 301.5 L179.3 301.5 L179.8 301.5 L180.3 301.5 L180.8 301.5 L181.3 301.5 L181.8 301.5 L182.3 301.5 L182.8 301.5 L183.3 301.5 L183.8 301.5 L184.3 301.5 L184.8 301.5 L185.3 301.5 L185.8 301.5 L186.3 301.5 L186.8 301.5 L187.3 301.5 L187.8 301.5 L188.3 301.5 L188.8 301.5 L189.3 301.5 L189.8 301.5 L190.3 301.5 L190.8 301.5 L191.3 301.5 L191.8 301.5 L192.3 301.5 L192.8 301.5 L193.3 301.5 L193.8 301.5 L194.3 301.5 L194.8 301.5 L195.3 301.5 L195.8 301.5 L196.3 301.5 L196.8 301.5 L197.3 301.5 L197.8 301.5 L198.3 301.5 L198.8 301.5 L199.3 301.5 L199.8 301.5 L200.3 301.5 L200.8 301.5 L201.3 301.5 L201.8 301.5 L202.3 301.5 L202.8 301.5 L203.3 301.5 L203.8 301.5 L204.3 301.5 L204.8 301.5 L205.3 301.5 L205.8 301.5 L206.3 301.5" fill="none" stroke="#ff4545" stroke-width="0.45"/>
<path d="M82.3 301.5 L82.8 301.5 L83.3 301.5 L83.8 301.5 L84.3 301.5 L84.8 301.5 L85.3 301.5 L85.8 301.5 L86.3 301.5 L86.8 301.5 L87.3 301.5 L87.8 301.5 L88.3 301.5 L88.8 301.5 L89.3 301.5 L89.8 301.5 L90.3 301.5 L90.8 301.5 L91.3 301.5 L91.8 301.5 L92.3 301.5 L92.8 301.5 L93.3 301.5 L93.8 301.5 L94.3 301.5 L94.8 301.5 L95.3 301.5 L95.8 301.5 L96.3 301.5 L96.8 301.5 L97.3 301.49 L97.8 301.49 L98.3 301.49 L98.8 301.49 L99.3 301.48 L99.8 301.48 L100.3 301.47 L100.8 301.46 L101.3 301.45 L101.8 301.43 L102.3 301.41 L102.8 301.38 L103.3 301.35 L103.8 301.31 L104.3 301.26 L104.8 301.19 L105.3 301.11 L105.8 301.01 L106.3 300.89 L106.8 300.75 L107.3 300.57 L107.8 300.35 L108.3 300.09 L108.8 299.78 L109.3 299.41 L109.8 298.98 L110.3 298.47 L110.8 297.87 L111.3 297.18 L111.8 296.38 L112.3 295.46 L112.8 294.41 L113.3 293.21 L113.8 291.87 L114.3 290.36 L114.8 288.67 L115.3 286.8 L115.8 284.74 L116.3 282.48 L116.8 280.02 L117.3 277.36 L117.8 274.49 L118.3 271.44 L118.8 268.19 L119.3 264.78 L119.8 261.2 L120.3 257.49 L120.8 253.67 L121.3 249.75 L121.8 245.79 L122.3 241.8 L122.8 237.83 L123.3 233.91 L123.8 230.08 L124.3 226.39 L124.8 222.88 L125.3 219.58 L125.8 216.53 L126.3 213.78 L126.8 211.34 L127.3 209.26 L127.8 207.55 L128.3 206.23 L128.8 205.32 L129.3 204.82 L129.8 204.74 L130.3 205.08 L130.8 205.81 L131.3 206.93 L131.8 208.42 L132.3 210.25 L132.8 212.4 L133.3 214.82 L133.8 217.5 L134.3 220.39 L134.8 223.45 L135.3 226.66 L135.8 229.96 L136.3 233.34 L136.8 236.75 L137.3 240.17 L137.8 243.56 L138.3 246.9 L138.8 250.18 L139.3 253.36 L139.8 256.44 L140.3 259.4 L140.8 262.23 L141.3 264.93 L141.8 267.49 L142.3 269.92 L142.8 272.2 L143.3 274.35 L143.8 276.36 L144.3 278.25 L144.8 280.01 L145.3 281.66 L145.8 283.19 L146.3 284.62 L146.8 285.95 L147.3 287.18 L147.8 288.34 L148.3 289.41 L148.8 290.41 L149.3 291.33 L149.8 292.2 L150.3 293 L150.8 293.75 L151.3 294.44 L151.8 295.08 L152.3 295.67 L152.8 296.23 L153.3 296.73 L153.8 297.2 L154.3 297.64 L154.8 298.03 L155.3 298.4 L155.8 298.73 L156.3 299.04 L156.8 299.31 L157.3 299.56 L157.8 299.79 L158.3 300 L158.8 300.18 L159.3 300.35 L159.8 300.49 L160.3 300.62 L160.8 300.74 L161.3 300.84 L161.8 300.93 L162.3 301.01 L162.8 301.08 L163.3 301.14 L163.8 301.2 L164.3 301.24 L164.8 301.28 L165.3 301.32 L165.8 301.35 L166.3 301.37 L166.8 301.39 L167.3 301.41 L167.8 301.43 L168.3 301.44 L168.8 301.45 L169.3 301.46 L169.8 301.47 L170.3 301.47 L170.8 301.48 L171.3 301.48 L171.8 301.49 L172.3 301.49 L172.8 301.49 L173.3 301.49 L173.8 301.49 L174.3 301.5 L174.8 301.5 L175.3 301.5 L175.8 301.5 L176.3 301.5 L176.8 301.5 L177.3 301.5 L177.8 301.5 L178.3 301.5 L178.8 301.5 L179.3 301.5 L179.8 301.5 L180.3 301.5 L180.8 301.5 L181.3 301.5 L181.8 301.5 L182.3 301.5 L182.8 301.5 L183.3 301.5 L183.8 301.5 L184.3 301.5 L184.8 301.5 L185.3 301.5 L185.8 301.5 L186.3 301.5 L186.8 301.5 L187.3 301.5 L187.8 301.5 L188.3 301.5 L188.8 301.5 L189.3 301.5 L189.8 301.5 L190.3 301.5 L190.8 301.5 L191.3 301.5 L191.8 301.5 L192.3 301.5 L192.8 301.5 L193.3 301.5 L193.8 301.5 L194.3 301.5 L194.8 301.5 L195.3 301.5 L195.8 301.5 L196.3 301.5 L196.8 301.5 L197.3 301.5 L197.8 301.5 L198.3 301.5 L198.8 301.5 L199.3 301.5 L199.8 301.5 L200.3 301.5 L200.8 301.5 L201.3 301.5 L201.8 301.5 L202.3 301.5 L202.8 301.5 L203.3 301.5 L203.8 301.5 L204.3 301.5 L204.8 301.5 L205.3 301.5 L205.8 301.5 L206.3 301.5" fill="none" stroke="#f02020" stroke-width="0.6"/>
<text x="175.2" y="209.1" font-family='"Liberation Sans", sans-serif' font-size="15.2" font-weight="bold" text-anchor="start" fill="#000" textLength="34.2" lengthAdjust="spacingAndGlyphs" >O 1s</text>
<text x="94.1" y="204.7" font-family='"DejaVu Sans", "Liberation Sans", sans-serif' font-size="9.6" font-weight="bold" text-anchor="start" fill="#000" textLength="19.3" lengthAdjust="spacingAndGlyphs" >C-O</text>
<path d="M115.1 204.3 L129.3 213.4 M128 207.2 L129.3 213.4 L122.5 213.9" fill="none" stroke="#000" stroke-width="1.7" stroke-linecap="round" stroke-linejoin="miter"/>
<text x="165.3" y="258.1" font-family='"DejaVu Sans", "Liberation Sans", sans-serif' font-size="9.5" font-weight="bold" text-anchor="start" fill="#000" textLength="22.6" lengthAdjust="spacingAndGlyphs" >C=O</text>
<path d="M164.2 258.4 L146.8 281.3 M147 274.1 L146.8 281.3 L153.9 278.8" fill="none" stroke="#000" stroke-width="1.7" stroke-linecap="round" stroke-linejoin="miter"/>
<path d="M281.7 35.4 C282.42 35.37 284.45 35.13 286 35.2 C287.55 35.27 289.77 35.6 291 35.8 C292.23 36 292.4 36.4 293.4 36.4 C294.4 36.4 295.55 36 297 35.8 C298.45 35.6 300.85 34.72 302.1 35.2 C303.35 35.68 303.82 36.17 304.5 38.7 C305.18 41.23 305.68 46.77 306.2 50.4 C306.72 54.03 307.23 57.65 307.6 60.5 C307.97 63.35 308.13 67.5 308.4 67.5 C308.67 67.5 308.78 64.13 309.2 60.5 C309.62 56.87 310.33 49.23 310.9 45.7 C311.47 42.17 311.92 40.85 312.6 39.3 C313.28 37.75 313.92 36.73 315 36.4 C316.08 36.07 317.45 36.92 319.1 37.3 C320.75 37.68 323.15 38.57 324.9 38.7 C326.65 38.83 327.85 38.33 329.6 38.1 C331.35 37.87 333.65 37.38 335.4 37.3 C337.15 37.22 338.53 37.43 340.1 37.6 C341.67 37.77 343.15 38.27 344.8 38.3 C346.45 38.33 348.37 37.87 350 37.8 C351.63 37.73 353.35 37.5 354.6 37.9 C355.85 38.3 356.77 39.05 357.5 40.2 C358.23 41.35 358.58 41.5 359 44.8 C359.42 48.1 359.77 55.87 360 60 C360.23 64.13 360.08 62.93 360.4 69.6 C360.72 76.27 361.4 90.77 361.9 100 C362.4 109.23 362.97 119.6 363.4 125 C363.83 130.4 364.13 132.57 364.5 132.4 C364.87 132.23 365.18 127.22 365.6 124 C366.02 120.78 366.47 114.1 367 113.1 C367.53 112.1 368.18 116.05 368.8 118 C369.42 119.95 370.18 125.13 370.7 124.8 C371.22 124.47 371.55 118.92 371.9 116 C372.25 113.08 372.47 109.97 372.8 107.3 C373.13 104.63 373.45 106.28 373.9 100 C374.35 93.72 375.07 76.27 375.5 69.6 C375.93 62.93 376.13 62.67 376.5 60 C376.87 57.33 377.1 55.65 377.7 53.6 C378.3 51.55 379.22 49.3 380.1 47.7 C380.98 46.1 381.9 45.08 383 44 C384.1 42.92 385.2 41.98 386.7 41.2 C388.2 40.42 390.05 39.8 392 39.3 C393.95 38.8 396.23 38.42 398.4 38.2 C400.57 37.98 402.57 38.07 405 38 C407.43 37.93 410.93 37.95 413 37.8 C415.07 37.65 415.9 37.18 417.4 37.1 C418.9 37.02 420.3 37.3 422 37.3 C423.7 37.3 425.7 37.03 427.6 37.1 C429.5 37.17 431.53 38 433.4 37.7 C435.27 37.4 436.7 35.58 438.8 35.3 C440.9 35.02 443.45 35.43 446 36 C448.55 36.57 451.42 38.7 454.1 38.7 C456.78 38.7 459.3 36.68 462.1 36 C464.9 35.32 468.47 34.47 470.9 34.6 C473.33 34.73 474.52 35.47 476.7 36.8 C478.88 38.13 482.2 40.73 484 42.6 C485.8 44.47 486.52 46.47 487.5 48 C488.48 49.53 489.07 51.72 489.9 51.8 C490.73 51.88 491.53 49.55 492.5 48.5 C493.47 47.45 494.2 46.55 495.7 45.5 C497.2 44.45 499.82 42.18 501.5 42.2 C503.18 42.22 504.72 44.13 505.8 45.6 C506.88 47.07 507.53 49.8 508 51 C508.47 52.2 508.3 52.87 508.6 52.8 C508.9 52.73 509.07 51.3 509.8 50.6 C510.53 49.9 511.7 49.22 513 48.6 C514.3 47.98 516.37 47.23 517.6 46.9 C518.83 46.57 519.5 46.42 520.4 46.6 C521.3 46.78 522.27 47.28 523 48 C523.73 48.72 524.33 49.23 524.8 50.9 C525.27 52.57 525.52 55.43 525.8 58 C526.08 60.57 526.23 65.88 526.5 66.3 C526.77 66.72 527.07 61.63 527.4 60.5 C527.73 59.37 527.95 59.63 528.5 59.5 C529.05 59.37 530.1 58.57 530.7 59.7 C531.3 60.83 531.67 63.13 532.1 66.3 C532.53 69.47 532.95 77.75 533.3 78.7 C533.65 79.65 533.92 73.7 534.2 72 C534.48 70.3 534.5 69.08 535 68.5 C535.5 67.92 536.58 67.42 537.2 68.5 C537.82 69.58 538.22 71.97 538.7 75 C539.18 78.03 539.6 84.38 540.1 86.7 C540.6 89.02 541.08 89.13 541.7 88.9 C542.32 88.67 543.08 86.88 543.8 85.3 C544.52 83.72 545.27 82.57 546 79.4 C546.73 76.23 547.35 69.95 548.2 66.3 C549.05 62.65 550.02 59.15 551.1 57.5 C552.18 55.85 553.37 56.28 554.7 56.4 C556.03 56.52 557.88 56.32 559.1 58.2 C560.32 60.08 561.02 63.68 562 67.7 C562.98 71.72 564.3 79.17 565 82.3 C565.7 85.43 565.75 86.22 566.2 86.5 C566.65 86.78 567.23 84 567.7 84 C568.17 84 568.48 87.5 569 86.5 C569.52 85.5 570.13 80.88 570.8 78 C571.47 75.12 572.15 71.03 573 69.2 C573.85 67.37 574.68 67.48 575.9 67 C577.12 66.52 578.97 66.72 580.3 66.3 C581.63 65.88 582.93 64.27 583.9 64.5 C584.87 64.73 585.37 65.45 586.1 67.7 C586.83 69.95 587.52 72.95 588.3 78 C589.08 83.05 590.02 89.4 590.8 98 C591.58 106.6 592.37 122.27 593 129.6 C593.63 136.93 594.17 138.27 594.6 142 C595.03 145.73 595.3 149.47 595.6 152 C595.9 154.53 596.13 157.2 596.4 157.2 C596.67 157.2 596.97 153.87 597.2 152 C597.43 150.13 597.57 146.33 597.8 146 C598.03 145.67 598.25 150.78 598.6 150 C598.95 149.22 599.5 146.15 599.9 141.3 C600.3 136.45 600.45 126.67 601 120.9 C601.55 115.13 602.33 113.2 603.2 106.7 C604.07 100.2 605.33 89.78 606.2 81.9 C607.07 74.02 607.55 64 608.4 59.4 C609.25 54.8 609.97 55.75 611.3 54.3 C612.63 52.85 615.07 50.95 616.4 50.7 C617.73 50.45 618.57 50.62 619.3 52.8 C620.03 54.98 620.28 60.97 620.8 63.8 C621.32 66.63 621.92 68.48 622.4 69.8 C622.88 71.12 623.27 71.83 623.7 71.7 C624.13 71.57 624.52 69.85 625 69 C625.48 68.15 626.02 67.57 626.6 66.6 C627.18 65.63 627.88 65.37 628.5 63.2 C629.12 61.03 629.65 56.05 630.3 53.6 C630.95 51.15 631.55 49.65 632.4 48.5 C633.25 47.35 634.18 46.58 635.4 46.7 C636.62 46.82 638.48 48.78 639.7 49.2 C640.92 49.62 641.83 47.98 642.7 49.2 C643.57 50.42 644.28 53.53 644.9 56.5 C645.52 59.47 646.03 64.6 646.4 67 C646.77 69.4 646.78 70.9 647.1 70.9 C647.42 70.9 647.82 69.88 648.3 67 C648.78 64.12 649.48 57.78 650 53.6 C650.52 49.42 650.92 44.95 651.4 41.9 C651.88 38.85 652.42 35.3 652.9 35.3 C653.38 35.3 653.92 37.45 654.3 41.9 C654.68 46.35 654.92 53.98 655.2 62 C655.48 70.02 655.77 83.28 656 90 C656.23 96.72 656.4 102.3 656.6 102.3 C656.8 102.3 656.97 95.45 657.2 90 C657.43 84.55 657.62 75.92 658 69.6 C658.38 63.28 658.9 56.72 659.5 52.1 C660.1 47.48 660.92 44.67 661.6 41.9 C662.28 39.13 663.27 36.57 663.6 35.5" fill="none" stroke="#b3464c" stroke-width="0.75" stroke-linejoin="round"/>
<text x="478.4" y="66.9" font-family='"DejaVu Sans", "Liberation Sans", sans-serif' font-size="9.7" font-weight="bold" text-anchor="start" fill="#000" textLength="23.2" lengthAdjust="spacingAndGlyphs" >C=O</text>
<text x="521.8" y="108.2" font-family='"DejaVu Sans", "Liberation Sans", sans-serif' font-size="9.7" font-weight="bold" text-anchor="start" fill="#000" textLength="21.6" lengthAdjust="spacingAndGlyphs" >-OH</text>
<text x="616.7" y="114.2" font-family='"DejaVu Sans", "Liberation Sans", sans-serif' font-size="9.6" font-weight="bold" text-anchor="start" fill="#000" textLength="41.4" lengthAdjust="spacingAndGlyphs" >sp<tspan font-size="5.8" dy="-3.8">2</tspan><tspan dy="3.8"> C=C</tspan></text>
<text x="304.6" y="80" font-family='"DejaVu Sans", "Liberation Sans", sans-serif' font-size="9.8" font-weight="bold" text-anchor="start" fill="#000" textLength="21" lengthAdjust="spacingAndGlyphs" >-OH</text>
<text x="291.8" y="92.7" font-family='"DejaVu Sans", "Liberation Sans", sans-serif' font-size="9.8" font-weight="bold" text-anchor="start" fill="#000" textLength="47.2" lengthAdjust="spacingAndGlyphs" >(H-bond)</text>
<rect x="302.0" y="26.9" width="12.9" height="130" fill="#92d050" fill-opacity="0.56"/>
<rect x="652.9" y="27.2" width="8" height="129.2" fill="#ffc000" fill-opacity="0.52"/>
<path d="M652.2 41.8V44.5M661.2 41.8V44.5" stroke="#555" stroke-width="1.2" fill="none"/>
<path d="M281.9 26.3H663.6" stroke="#585858" stroke-width="1.0" fill="none"/>
<path d="M663.6 26.3V157.2" stroke="#b2b2b2" stroke-width="1.0" fill="none"/>
<path d="M281.9 25.8V157.7" stroke="#a2a2a2" stroke-width="1.0" fill="none"/>
<path d="M281.4 157.2H664.1" stroke="#a6a6a6" stroke-width="1.0" fill="none"/>
<path d="M280.3 27.9H281.9 M280.3 37.95H281.9 M280.3 48H281.9 M280.3 58.05H281.9 M280.3 68.1H281.9 M280.3 78.15H281.9 M280.3 88.2H281.9 M280.3 98.25H281.9 M280.3 108.3H281.9 M280.3 118.35H281.9 M280.3 128.4H281.9 M280.3 138.45H281.9 M280.3 148.5H281.9 M281.9 157.2V155.6 M314.4 157.2V155.6 M346.9 157.2V155.6 M379.4 157.2V155.6 M411.9 157.2V155.6 M444.4 157.2V155.6 M476.9 157.2V155.6 M509.4 157.2V155.6 M541.9 157.2V155.6 M574.4 157.2V155.6 M606.9 157.2V155.6 M639.4 157.2V155.6" stroke="#8a8a8a" stroke-width="0.7" fill="none"/>
<text x="283" y="170.8" font-family='"Liberation Sans", sans-serif' font-size="9" font-weight="bold" text-anchor="middle" fill="#000" >4000</text>
<text x="347.8" y="170.8" font-family='"Liberation Sans", sans-serif' font-size="9" font-weight="bold" text-anchor="middle" fill="#000" >3200</text>
<text x="412.8" y="170.8" font-family='"Liberation Sans", sans-serif' font-size="9" font-weight="bold" text-anchor="middle" fill="#000" >2400</text>
<text x="471.5" y="170.8" font-family='"Liberation Sans", sans-serif' font-size="9" font-weight="bold" text-anchor="middle" fill="#000" >1800</text>
<text x="539.6" y="170.8" font-family='"Liberation Sans", sans-serif' font-size="9" font-weight="bold" text-anchor="middle" fill="#000" >1400</text>
<text x="600.4" y="170.8" font-family='"Liberation Sans", sans-serif' font-size="9" font-weight="bold" text-anchor="middle" fill="#000" >1000</text>
<text x="663" y="170.8" font-family='"Liberation Sans", sans-serif' font-size="9" font-weight="bold" text-anchor="middle" fill="#000" >600</text>
<text transform="translate(268 102.2) rotate(-90)" font-family='"Liberation Sans", sans-serif' font-size="16.4" font-weight="bold" text-anchor="middle" fill="#000" textLength="21.8" lengthAdjust="spacingAndGlyphs">%T</text>
<path d="M281.7 184.9 C283.42 184.93 288.48 185 292 185.1 C295.52 185.2 299.9 185.12 302.8 185.5 C305.7 185.88 307.32 186.6 309.4 187.4 C311.48 188.2 313.53 189.47 315.3 190.3 C317.07 191.13 318.3 191.78 320 192.4 C321.7 193.02 322.88 193.62 325.5 194 C328.12 194.38 331.82 194.47 335.7 194.7 C339.58 194.93 345.63 195.03 348.8 195.4 C351.97 195.77 353.18 196.08 354.7 196.9 C356.22 197.72 357.1 200.05 357.9 200.3 C358.7 200.55 359.12 198.12 359.5 198.4 C359.88 198.68 360 200.67 360.2 202 C360.4 203.33 360.53 206.4 360.7 206.4 C360.87 206.4 361 203.22 361.2 202 C361.4 200.78 361.32 199.38 361.9 199.1 C362.48 198.82 363.88 199.2 364.7 200.3 C365.52 201.4 366.25 203.75 366.8 205.7 C367.35 207.65 367.63 210.07 368 212 C368.37 213.93 368.68 217.3 369 217.3 C369.32 217.3 369.62 213.45 369.9 212 C370.18 210.55 370.25 210.02 370.7 208.6 C371.15 207.18 371.83 204.48 372.6 203.5 C373.37 202.52 374.7 203.37 375.3 202.7 C375.9 202.03 375.88 200.5 376.2 199.5 C376.52 198.5 376.45 197.75 377.2 196.7 C377.95 195.65 378.9 194.02 380.7 193.2 C382.5 192.38 384.6 192.2 388 191.8 C391.4 191.4 396.48 191.22 401.1 190.8 C405.72 190.38 410.83 189.93 415.7 189.3 C420.57 188.67 426.17 187.55 430.3 187 C434.43 186.45 437.22 186.22 440.5 186 C443.78 185.78 447.65 185.72 450 185.7 C452.35 185.68 453.1 185.98 454.6 185.9 C456.1 185.82 457.3 185.23 459 185.2 C460.7 185.17 462.98 185.75 464.8 185.7 C466.62 185.65 468.43 184.62 469.9 184.9 C471.37 185.18 472.25 185.65 473.6 187.4 C474.95 189.15 476.55 192.23 478 195.4 C479.45 198.57 481.08 202.75 482.3 206.4 C483.52 210.05 484.43 212.95 485.3 217.3 C486.17 221.65 486.83 228.58 487.5 232.5 C488.17 236.42 488.9 239.12 489.3 240.8 C489.7 242.48 489.63 242.3 489.9 242.6 C490.17 242.9 490.63 242.9 490.9 242.6 C491.17 242.3 491.08 242.23 491.5 240.8 C491.92 239.37 492.48 237.57 493.4 234 C494.32 230.43 496.08 222.7 497 219.4 C497.92 216.1 498.3 215.32 498.9 214.2 C499.5 213.08 499.95 212.67 500.6 212.7 C501.25 212.73 501.95 213.13 502.8 214.4 C503.65 215.67 504.83 218.2 505.7 220.3 C506.57 222.4 507.38 225.45 508 227 C508.62 228.55 508.8 229.77 509.4 229.6 C510 229.43 510.62 227.1 511.6 226 C512.58 224.9 513.97 224.47 515.3 223 C516.63 221.53 518.65 218.83 519.6 217.2 C520.55 215.57 520.35 213.8 521 213.2 C521.65 212.6 522.77 213.28 523.5 213.6 C524.23 213.92 524.97 213.5 525.4 215.1 C525.83 216.7 525.9 220.78 526.1 223.2 C526.3 225.62 526.43 229.8 526.6 229.6 C526.77 229.4 526.92 224.2 527.1 222 C527.28 219.8 527.23 217.32 527.7 216.4 C528.17 215.48 529.3 215.77 529.9 216.5 C530.5 217.23 530.87 218.55 531.3 220.8 C531.73 223.05 532.18 227.43 532.5 230 C532.82 232.57 532.95 236.03 533.2 236.2 C533.45 236.37 533.7 232.35 534 231 C534.3 229.65 534.35 229.92 535 228.1 C535.65 226.28 536.82 221.8 537.9 220.1 C538.98 218.4 540.4 217.9 541.5 217.9 C542.6 217.9 543.77 219.37 544.5 220.1 C545.23 220.83 545.4 222.23 545.9 222.3 C546.4 222.37 546.88 221.02 547.5 220.5 C548.12 219.98 548.53 219.08 549.6 219.2 C550.67 219.32 552.75 220.4 553.9 221.2 C555.05 222 555.45 222.78 556.5 224 C557.55 225.22 558.85 226.17 560.2 228.5 C561.55 230.83 563.38 235.92 564.6 238 C565.82 240.08 566.53 240.1 567.5 241 C568.47 241.9 569.42 242.35 570.4 243.4 C571.38 244.45 572.18 245.32 573.4 247.3 C574.62 249.28 576.67 253.75 577.7 255.3 C578.73 256.85 578.98 256.42 579.6 256.6 C580.22 256.78 580.62 257.7 581.4 256.4 C582.18 255.1 583.57 251.15 584.3 248.8 C585.03 246.45 584.83 244.6 585.8 242.3 C586.77 240 588.77 236.93 590.1 235 C591.43 233.07 592.95 231 593.8 230.7 C594.65 230.4 594.72 232.65 595.2 233.2 C595.68 233.75 595.97 233.45 596.7 234 C597.43 234.55 598.82 234.87 599.6 236.5 C600.38 238.13 600.9 241.52 601.4 243.8 C601.9 246.08 602.17 250.45 602.6 250.2 C603.03 249.95 603.4 246.28 604 242.3 C604.6 238.32 605.47 230.07 606.2 226.3 C606.93 222.53 607.68 220.62 608.4 219.7 C609.12 218.78 609.77 220.38 610.5 220.8 C611.23 221.22 611.93 222.98 612.8 222.2 C613.67 221.42 614.62 218.22 615.7 216.1 C616.78 213.98 618.28 210.43 619.3 209.5 C620.32 208.57 620.93 211.07 621.8 210.5 C622.67 209.93 623.63 206.88 624.5 206.1 C625.37 205.32 626.15 205.97 627 205.8 C627.85 205.63 628.68 205.27 629.6 205.1 C630.52 204.93 631.53 205.05 632.5 204.8 C633.47 204.55 634.3 203.07 635.4 203.6 C636.5 204.13 638 207.33 639.1 208 C640.2 208.67 641.15 206.5 642 207.6 C642.85 208.7 643.58 211.37 644.2 214.6 C644.82 217.83 645.3 223.72 645.7 227 C646.1 230.28 646.3 233.97 646.6 234.3 C646.9 234.63 647.18 231.07 647.5 229 C647.82 226.93 648.13 226.17 648.5 221.9 C648.87 217.63 649.15 208.62 649.7 203.4 C650.25 198.18 651.2 193.25 651.8 190.6 C652.4 187.95 652.87 187.27 653.3 187.5 C653.73 187.73 654.08 187.42 654.4 192 C654.72 196.58 654.97 203.67 655.2 215 C655.43 226.33 655.62 246.67 655.8 260 C655.98 273.33 656.17 287.75 656.3 295 C656.43 302.25 656.5 303.5 656.6 303.5 C656.7 303.5 656.77 303.92 656.9 295 C657.03 286.08 657.2 262.5 657.4 250 C657.6 237.5 657.85 227.77 658.1 220 C658.35 212.23 658.4 208.07 658.9 203.4 C659.4 198.73 660.32 194.95 661.1 192 C661.88 189.05 663.18 186.75 663.6 185.7" fill="none" stroke="#52afb4" stroke-width="0.85" stroke-linejoin="round"/>
<text x="479.5" y="256.2" font-family='"DejaVu Sans", "Liberation Sans", sans-serif' font-size="9.5" font-weight="bold" text-anchor="start" fill="#000" textLength="22.3" lengthAdjust="spacingAndGlyphs" >C=O</text>
<text x="525.2" y="250" font-family='"DejaVu Sans", "Liberation Sans", sans-serif' font-size="9.5" font-weight="bold" text-anchor="start" fill="#000" textLength="20.3" lengthAdjust="spacingAndGlyphs" >-OH</text>
<text x="610.8" y="291.5" font-family='"DejaVu Sans", "Liberation Sans", sans-serif' font-size="9.6" font-weight="bold" text-anchor="start" fill="#000" textLength="41.2" lengthAdjust="spacingAndGlyphs" >sp<tspan font-size="5.8" dy="-3.8">2</tspan><tspan dy="3.8"> C=C</tspan></text>
<text x="305.6" y="206.4" font-family='"DejaVu Sans", "Liberation Sans", sans-serif' font-size="9.8" font-weight="bold" text-anchor="start" fill="#000" textLength="20.9" lengthAdjust="spacingAndGlyphs" >-OH</text>
<text x="292.3" y="219.2" font-family='"DejaVu Sans", "Liberation Sans", sans-serif' font-size="9.8" font-weight="bold" text-anchor="start" fill="#000" textLength="47" lengthAdjust="spacingAndGlyphs" >(H-bond)</text>
<rect x="303.0" y="183.3" width="12.5" height="126" fill="#92d050" fill-opacity="0.56"/>
<rect x="653.3" y="176.7" width="7.8" height="131.9" fill="#ffc000" fill-opacity="0.52"/>
<path d="M281.8 175.6H663.7" stroke="#4c4c4c" stroke-width="1.0" fill="none"/>
<path d="M663.7 175.6V310.4" stroke="#adadad" stroke-width="1.0" fill="none"/>
<path d="M281.8 175.1V310.9" stroke="#8c8c8c" stroke-width="1.0" fill="none"/>
<path d="M281.3 310.4H664.2" stroke="#6c6c6c" stroke-width="1.0" fill="none"/>
<path d="M280.2 179.8H281.8 M280.2 189.77H281.8 M280.2 199.74H281.8 M280.2 209.71H281.8 M280.2 219.68H281.8 M280.2 229.65H281.8 M280.2 239.62H281.8 M280.2 249.59H281.8 M280.2 259.56H281.8 M280.2 269.53H281.8 M280.2 279.5H281.8 M280.2 289.47H281.8 M280.2 299.44H281.8 M280.2 309.41H281.8 M282 310.4V312 M314.52 310.4V312 M347.04 310.4V312 M379.56 310.4V312 M412.08 310.4V312 M444.6 310.4V312 M477.12 310.4V312 M509.64 310.4V312 M542.16 310.4V312 M574.68 310.4V312 M607.2 310.4V312 M639.72 310.4V312" stroke="#8a8a8a" stroke-width="0.7" fill="none"/>
<path d="M596.5 307.2V309.8" stroke="#e03030" stroke-width="0.8"/>
<path d="M369 217.2V218.6" stroke="#f08080" stroke-width="0.9"/>
<text x="283" y="324.7" font-family='"Liberation Sans", sans-serif' font-size="9" font-weight="bold" text-anchor="middle" fill="#000" >4000</text>
<text x="347.8" y="324.7" font-family='"Liberation Sans", sans-serif' font-size="9" font-weight="bold" text-anchor="middle" fill="#000" >3200</text>
<text x="412.9" y="324.7" font-family='"Liberation Sans", sans-serif' font-size="9" font-weight="bold" text-anchor="middle" fill="#000" >2400</text>
<text x="471.3" y="324.7" font-family='"Liberation Sans", sans-serif' font-size="9" font-weight="bold" text-anchor="middle" fill="#000" >1800</text>
<text x="539" y="324.7" font-family='"Liberation Sans", sans-serif' font-size="9" font-weight="bold" text-anchor="middle" fill="#000" >1400</text>
<text x="600.7" y="324.7" font-family='"Liberation Sans", sans-serif' font-size="9" font-weight="bold" text-anchor="middle" fill="#000" >1000</text>
<text x="662.9" y="324.7" font-family='"Liberation Sans", sans-serif' font-size="9" font-weight="bold" text-anchor="middle" fill="#000" >600</text>
<text transform="translate(268 247.9) rotate(-90)" font-family='"Liberation Sans", sans-serif' font-size="16.4" font-weight="bold" text-anchor="middle" fill="#000" textLength="22.2" lengthAdjust="spacingAndGlyphs">%T</text>
<text x="388.8" y="346.9" font-family='"DejaVu Sans", "Liberation Sans", sans-serif' font-size="16.6" font-weight="normal" text-anchor="start" fill="#000" textLength="168.4" lengthAdjust="spacingAndGlyphs" >Wavenumber (cm<tspan font-size="10.5" dy="-5.6">-1</tspan><tspan dy="5.6">)</tspan></text>
</svg>
</body></html>
